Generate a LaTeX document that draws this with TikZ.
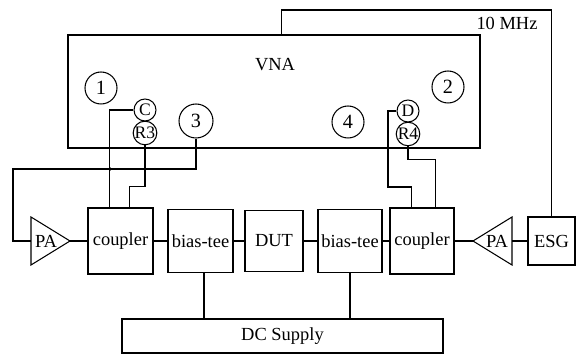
\documentclass[tikz,border=0pt]{standalone}
\usepackage{fontspec}
\setmainfont{Liberation Serif}
\usepackage{tikz}
\newcommand{\lbl}{\fontsize{10.5}{12}\selectfont}
\newcommand{\portfont}{\fontsize{11.5}{12}\selectfont}
\newcommand{\sml}{\fontsize{10}{10}\selectfont}
\tikzset{
  blk/.style={draw, line width=0.6pt, inner sep=0pt, font=\lbl},
  port/.style={draw, circle, line width=0.6pt, inner sep=0pt, minimum size=0.64cm, font=\portfont},
  sport/.style={draw, circle, line width=0.6pt, inner sep=0pt, minimum size=0.44cm, font=\sml},
  wire/.style={line width=0.6pt}}
\newcommand{\bx}[6]{%
  \node[blk, minimum width={#4*0.02cm}, minimum height={#5*0.02cm}] (#1) at (#2,#3) {#6};}
\newcommand{\amptri}[4]{%
  \draw[wire] (#2,#3) -- ({#2-39*#4},{#3-24}) -- ({#2-39*#4},{#3+24}) -- cycle;
  \node[font=\lbl, inner sep=0pt] (#1) at ({#2-24*#4},#3) {PA};
  \coordinate (#1out) at (#2,#3);
  \coordinate (#1in) at ({#2-39*#4},#3);}

\begin{document}
\begin{tikzpicture}[x=0.02cm, y=-0.02cm]
    \useasboundingbox (0,0) rectangle (579,354);
    \bx{vna}{274}{91.5}{412}{113}{}
    \node[font=\lbl] (vnalbl) at (275,65) {VNA};
    \node[port] (p1) at (101,88) {1};
    \node[port] (p2) at (448,87) {2};
    \node[port, minimum size=0.68cm] (p3) at (196,121) {3};
    \node[port] (p4) at (348,122) {4};
    \node[sport] (pc) at (145,110) {C};
    \node[sport] (pr3) at (145,133) {R3};
    \node[sport] (pd) at (408,111) {D};
    \node[sport] (pr4) at (408,134) {R4};
    \amptri{pa1}{70}{241}{1}
    \bx{cpl1}{120.5}{241}{65}{66}{coupler}
    \bx{bt1}{200.5}{241}{65}{63}{bias-tee}
    \bx{dut}{274}{241}{58}{61}{DUT}
    \bx{bt2}{350}{241}{64}{63}{bias-tee}
    \bx{cpl2}{422}{241}{64}{66}{coupler}
    \amptri{pa2}{473}{241}{-1}
    \bx{esg}{551.5}{241}{47}{48}{ESG}
    \bx{dc}{282.5}{336}{321}{34}{DC Supply}
    \node[font=\lbl] (clk) at (507,23) {10 MHz};
    \coordinate (clktop) at (553,10);
    \coordinate (fb) at (13,169);
    \coordinate (j1) at (110,169);
    \coordinate (j2) at (145,169);
    \draw[wire] ([xshift=4.28cm]vna.north west) |- (esg.north |- clktop) -- (esg.north);
    \draw[wire] (p3.south) |- (fb) |- (pa1in);
    \draw[wire] (pc.west) -| ([xshift=0.44cm]cpl1.north west);
    \draw[wire] (pr3.south) |- ([xshift=0.84cm,yshift=0.42cm]cpl1.north west) -- ([xshift=0.84cm]cpl1.north west);
    \fill (j1) circle (1.1pt);
    \fill (j2) circle (1.1pt);
    \draw[wire] (pd.west) -| (388,187) -| ([xshift=0.44cm]cpl2.north west);
    \draw[wire] (pr4.south) |- ([xshift=0.92cm,yshift=0.96cm]cpl2.north west) -- ([xshift=0.92cm]cpl2.north west);
    \draw[wire] (pa1out) -- (cpl1.west);
    \draw[wire] (cpl1.east) -- (bt1.west);
    \draw[wire] (bt1.east) -- (dut.west);
    \draw[wire] (dut.east) -- (bt2.west);
    \draw[wire] (bt2.east) -- (cpl2.west);
    \draw[wire] (cpl2.east) -- (pa2out);
    \draw[wire] (pa2in) -- (esg.west);
    \draw[wire] ([xshift=0.07cm]bt1.south) -- ([xshift=0.07cm]bt1.south |- dc.north);
    \draw[wire] (bt2.south) -- (bt2.south |- dc.north);
  \end{tikzpicture}
\end{document}
